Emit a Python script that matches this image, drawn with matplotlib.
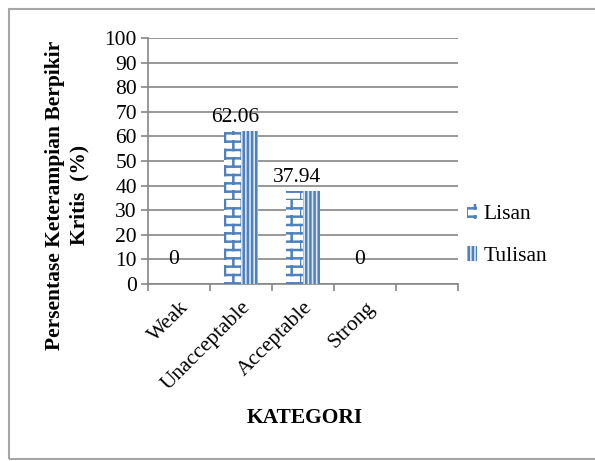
import warnings
import numpy as np
import matplotlib.pyplot as plt
import matplotlib.patches as mpatches
import matplotlib.hatch as mhatch
from matplotlib.path import Path

warnings.filterwarnings('ignore')

plt.rcParams['font.family'] = ['Liberation Serif', 'DejaVu Serif']
plt.rcParams['hatch.linewidth'] = 1.8


# brick pattern like the excel fill, used with hatch='b'
class BrickHatch(mhatch.HatchPatternBase):
    def __init__(self, hatch, density):
        n = hatch.count('b')
        self.rows = int(n * density * 2)
        self.cols = self.rows // 2
        self.num_vertices = (self.rows + self.rows * self.cols) * 2

    def set_vertices_and_codes(self, vertices, codes):
        dy = 1.0 / self.rows
        dx = 1.0 / self.cols
        k = 0
        for r in range(self.rows):
            y0 = r * dy
            vertices[k] = (0, y0)
            vertices[k + 1] = (1, y0)
            codes[k] = Path.MOVETO
            codes[k + 1] = Path.LINETO
            k += 2
            off = 0 if r % 2 == 0 else dx / 2
            for c in range(self.cols):
                xx = c * dx + off
                vertices[k] = (xx, y0)
                vertices[k + 1] = (xx, y0 + dy)
                codes[k] = Path.MOVETO
                codes[k + 1] = Path.LINETO
                k += 2


mhatch._hatch_types.append(BrickHatch)

kategori = ['Weak', 'Unacceptable', 'Acceptable', 'Strong', '']
lisan = [0, 62.06, 37.94, 0, np.nan]
tulisan = [0, 62.06, 37.94, 0, np.nan]
label_lisan = ['0', '62.06', '37.94', '0', '']

blue = '#4f81bd'
light = '#dce6f2'
fs = 15.5

fig = plt.figure(figsize=(5.95, 4.61), dpi=100)
ax = fig.add_axes([0.2487, 0.384, 0.5213, 0.5336])

x = np.arange(len(kategori))
w = 0.28
ax.bar(x - w / 2, lisan, w, facecolor='white', edgecolor=blue, hatch='b', linewidth=0, label='Lisan', zorder=3)
ax.bar(x + w / 2, tulisan, w, facecolor=light, edgecolor=blue, hatch='||||', linewidth=0, label='Tulisan', zorder=3)

for xi, v, s in zip(x, lisan, label_lisan):
    if s == '':
        continue
    ax.text(xi - w / 2 + 0.05, max(v + 5.5, 10), s, ha='center', va='center', fontsize=fs)

ax.set_xlim(-0.5, 4.5)
ax.set_ylim(0, 100)
ax.set_yticks(np.arange(0, 101, 10))
ax.yaxis.grid(True, color='#868686', linewidth=1.2, zorder=0)
ax.set_xticks(np.arange(-0.5, 4.6, 1))
ax.set_xticklabels([])
ax.set_xticks(x, minor=True)
ax.set_xticklabels(kategori, minor=True, rotation=45, ha='right', rotation_mode='anchor', fontsize=fs)
ax.tick_params(axis='x', which='minor', length=0, pad=10)
ax.tick_params(axis='both', which='major', color='#868686', length=5, width=1.2, labelsize=fs)
ax.tick_params(axis='y', pad=3)

for side in ['top', 'right']:
    ax.spines[side].set_visible(False)
for side in ['left', 'bottom']:
    ax.spines[side].set_color('#868686')
    ax.spines[side].set_linewidth(1.2)

ax.set_ylabel('Persentase Keterampian Berpikir\nKritis  (%)', fontsize=fs, fontweight='bold', linespacing=1.25)
ax.yaxis.set_label_coords(-0.19, 0.36)
fig.text(0.513, 0.093, 'KATEGORI', ha='center', va='center', fontsize=fs, fontweight='bold')

ax.legend(loc='center left', bbox_to_anchor=(0.965, 0.2), frameon=False, fontsize=fs,
          handlelength=0.5, handleheight=0.7, handletextpad=0.3, labelspacing=1.0)

fig.patches.append(mpatches.Rectangle((9 / 595, 2 / 461), 1.0, 450 / 461, transform=fig.transFigure,
                                      fill=False, edgecolor='#a6a6a6', linewidth=1.5))

fig.savefig('out.png', dpi=100)
